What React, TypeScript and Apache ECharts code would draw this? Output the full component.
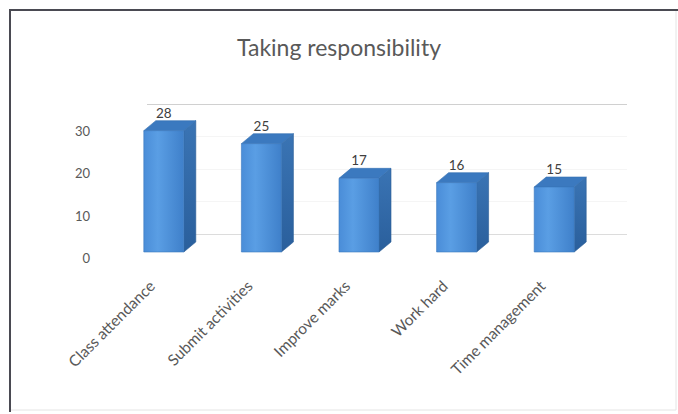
import React, { useEffect, useRef } from "react";
import * as echarts from "echarts";

const categories = ["Class attendance", "Submit activities", "Improve marks", "Work hard", "Time management"];
const values = [28, 25, 17, 16, 15];
const titleText = "Taking responsibility";
const yMax = 30;
const yStep = 10;
const backMax = 40;

export default function App() {
  const ref = useRef<HTMLDivElement>(null);
  useEffect(() => {
    document.body.style.margin = "0";
    const chart = echarts.init(ref.current!, null, { renderer: "svg" });
    const dx = 12;
    const dy = -10;
    const option: any = {
      animation: false,
      backgroundColor: "#ffffff",
      title: {
        text: titleText,
        left: "center",
        top: 30,
        textStyle: { fontFamily: "Lato", fontSize: 23, fontWeight: "normal", color: "#595959" },
      },
      graphic: [
        { type: "polyline", shape: { points: [[10, 412], [10, 10], [678, 10]] }, style: { stroke: "#4a4a52", lineWidth: 2, fill: null } },
        { type: "polyline", shape: { points: [[11, 410], [676, 410], [676, 11]] }, style: { stroke: "#e4e4e4", lineWidth: 1, fill: null } },
      ],
      grid: [
        { left: 115, right: 75, top: 122, bottom: 162 },
        { left: 147, right: 51, top: 104, bottom: 180 },
        { left: 103, right: 87, top: 131, bottom: 156 },
      ],
      xAxis: [
        { type: "category", gridIndex: 0, data: categories, show: false },
        { type: "category", gridIndex: 1, data: categories, show: false },
        {
          type: "category",
          gridIndex: 2,
          data: categories,
          axisLine: { show: false },
          axisTick: { show: false },
          axisLabel: { rotate: 45, margin: 25, fontSize: 15.5, fontFamily: "Lato", color: "#595959", interval: 0 },
        },
      ],
      yAxis: [
        { type: "value", gridIndex: 0, min: 0, max: yMax, interval: yStep, show: false },
        {
          type: "value",
          gridIndex: 1,
          min: 0,
          max: backMax,
          interval: yStep,
          axisLine: { show: false },
          axisTick: { show: false },
          axisLabel: { show: false },
          splitLine: { show: true, lineStyle: { color: ["#dcdcdc", "#f5f5f5", "#f5f5f5", "#f5f5f5", "#d0d0d0"], width: 1 } },
        },
        {
          type: "value",
          gridIndex: 2,
          min: 0,
          max: yMax,
          interval: yStep,
          axisLine: { show: false },
          axisTick: { show: false },
          splitLine: { show: false },
          axisLabel: { margin: 13, fontSize: 13, fontFamily: "Lato", color: "#595959" },
        },
      ],
      series: [
        {
          type: "custom",
          xAxisIndex: 0,
          yAxisIndex: 0,
          clip: false,
          data: values.map((v, i) => [i, v]),
          encode: { x: 0, y: 1 },
          renderItem: (params: any, api: any) => {
            const cat = api.value(0);
            const v = api.value(1);
            const base = api.coord([cat, 0]);
            const top = api.coord([cat, v]);
            const bw = api.size([1, 0])[0] * 0.41;
            const x0 = base[0] - bw / 2;
            const x1 = base[0] + bw / 2;
            const yb = base[1];
            const yt = top[1];
            return {
              type: "group",
              children: [
                {
                  type: "polygon",
                  shape: { points: [[x1, yt], [x1 + dx, yt + dy], [x1 + dx, yb + dy], [x1, yb]] },
                  style: {
                    fill: new echarts.graphic.LinearGradient(0, 0, 0, 1, [
                      { offset: 0, color: "#3a74b4" },
                      { offset: 1, color: "#2a5f9c" },
                    ]),
                    stroke: "#2a5c95",
                    lineWidth: 0.6,
                  },
                },
                {
                  type: "polygon",
                  shape: { points: [[x0, yt], [x0 + dx, yt + dy], [x1 + dx, yt + dy], [x1, yt]] },
                  style: { fill: "#3b79bf", stroke: "#3470b2", lineWidth: 0.6 },
                },
                {
                  type: "rect",
                  shape: { x: x0, y: yt, width: bw, height: yb - yt },
                  style: {
                    fill: new echarts.graphic.LinearGradient(0, 0, 1, 0, [
                      { offset: 0, color: "#4a8dd8" },
                      { offset: 0.35, color: "#5a9ee4" },
                      { offset: 1, color: "#3f80ca" },
                    ]),
                    stroke: "#3a78bd",
                    lineWidth: 0.6,
                  },
                },
                {
                  type: "text",
                  x: base[0],
                  y: yt - 18,
                  style: {
                    text: String(v),
                    align: "center",
                    verticalAlign: "middle",
                    fontSize: 13.5,
                    fontFamily: "Lato",
                    fill: "#404040",
                  },
                },
              ],
            };
          },
        },
      ],
    };
    chart.setOption(option);
    return () => chart.dispose();
  }, []);
  return <div ref={ref} style={{ width: 678, height: 414 }} />;
}
